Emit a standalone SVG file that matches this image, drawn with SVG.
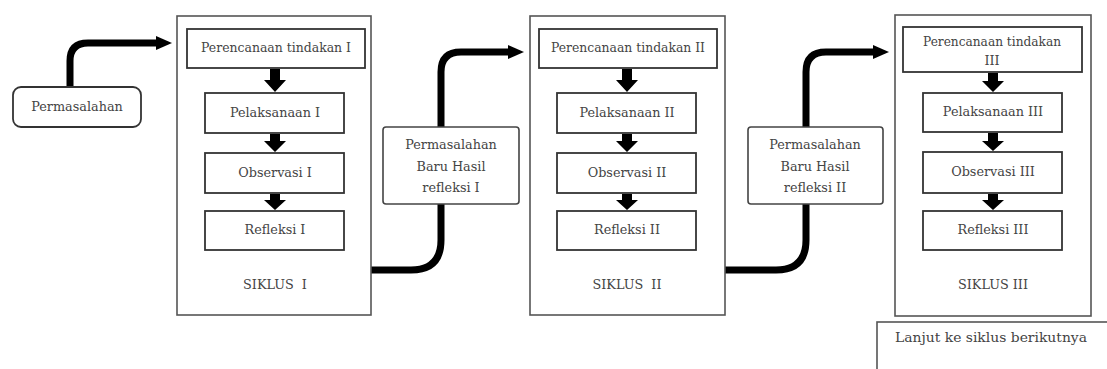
<svg xmlns="http://www.w3.org/2000/svg" width="1107" height="369" viewBox="0 0 1107 369">
<style>
.bg{fill:#fff}
.outer{fill:#fff;stroke:#555;stroke-width:1.6}
.inner{fill:#fff;stroke:#333;stroke-width:1.8}
.note{fill:#fff;stroke:#444;stroke-width:1.6}
.t{font-family:"DejaVu Serif","Liberation Serif",serif;font-size:12.8px;fill:#444;text-anchor:middle}
.conn{fill:none;stroke:#000;stroke-width:7}
.blk{fill:#000}
</style>
<defs>
<marker id="ah" markerUnits="userSpaceOnUse" markerWidth="16" markerHeight="16" viewBox="0 0 16 16" refX="2" refY="8" orient="auto">
<path d="M0,1 L16,8 L0,15 Z" fill="#000"/>
</marker>
</defs>
<rect class="bg" x="0" y="0" width="1107" height="369"/>

<g id="connectors">
<path class="conn" d="M70,87 V61 Q70,43 88,43 H158" marker-end="url(#ah)"/>
<path class="conn" d="M371,270 H411 Q441,270 441,240 V72 Q441,52 461,52 H510" marker-end="url(#ah)"/>
<path class="conn" d="M725,270 H776 Q806,270 806,240 V72 Q806,52 826,52 H875" marker-end="url(#ah)"/>
</g>

<g id="permasalahan">
<rect class="inner" x="13" y="87" width="128" height="40" rx="8"/>
<text class="t" x="77" y="111">Permasalahan</text>
</g>

<g id="siklus1">
<rect class="outer" x="177" y="16" width="194" height="299"/>
<text class="t" x="275" y="289" style="word-spacing:4px">SIKLUS I</text>
</g>
<g id="perencanaan1"><rect class="inner" x="187" y="29" width="178" height="39"/><text class="t" x="276" y="52" textLength="150" lengthAdjust="spacingAndGlyphs">Perencanaan tindakan I</text></g>
<g id="pelaksanaan1"><rect class="inner" x="205" y="93" width="139" height="40"/><text class="t" x="275" y="117">Pelaksanaan I</text></g>
<g id="observasi1"><rect class="inner" x="205" y="153" width="139" height="40"/><text class="t" x="275" y="177">Observasi I</text></g>
<g id="refleksi1"><rect class="inner" x="205" y="211" width="139" height="39"/><text class="t" x="275" y="234">Refleksi I</text></g>
<g id="arrows1">
<path class="blk" d="M270,69 H280 V80 H286 L275,92 L264,80 H270 Z"/>
<path class="blk" d="M270,134 H280 V141 H286 L275,152 L264,141 H270 Z"/>
<path class="blk" d="M270,194 H280 V200 H286 L275,210 L264,200 H270 Z"/>
</g>

<g id="masalah1">
<rect class="note" x="383" y="127" width="136" height="77" rx="3"/>
<text class="t" x="451" y="149">Permasalahan</text>
<text class="t" x="451" y="171">Baru Hasil</text>
<text class="t" x="451" y="192">refleksi I</text>
</g>

<g id="siklus2">
<rect class="outer" x="530" y="16" width="195" height="299"/>
<text class="t" x="627" y="289" style="word-spacing:4px">SIKLUS II</text>
</g>
<g id="perencanaan2"><rect class="inner" x="539" y="29" width="178" height="39"/><text class="t" x="628" y="52" textLength="154" lengthAdjust="spacingAndGlyphs">Perencanaan tindakan II</text></g>
<g id="pelaksanaan2"><rect class="inner" x="557" y="93" width="139" height="40"/><text class="t" x="627" y="117">Pelaksanaan II</text></g>
<g id="observasi2"><rect class="inner" x="557" y="153" width="139" height="40"/><text class="t" x="627" y="177">Observasi II</text></g>
<g id="refleksi2"><rect class="inner" x="557" y="211" width="139" height="39"/><text class="t" x="627" y="234">Refleksi II</text></g>
<g id="arrows2">
<path class="blk" d="M622,69 H632 V80 H638 L627,92 L616,80 H622 Z"/>
<path class="blk" d="M622,134 H632 V141 H638 L627,152 L616,141 H622 Z"/>
<path class="blk" d="M622,194 H632 V200 H638 L627,210 L616,200 H622 Z"/>
</g>

<g id="masalah2">
<rect class="note" x="748" y="127" width="135" height="77" rx="3"/>
<text class="t" x="815" y="149">Permasalahan</text>
<text class="t" x="815" y="171">Baru Hasil</text>
<text class="t" x="815" y="192">refleksi II</text>
</g>

<g id="siklus3">
<rect class="outer" x="895" y="15" width="196" height="301"/>
<text class="t" x="993" y="289">SIKLUS III</text>
</g>
<g id="perencanaan3"><rect class="inner" x="903" y="27" width="179" height="45"/><text class="t" x="992" y="46" textLength="138" lengthAdjust="spacingAndGlyphs">Perencanaan tindakan</text><text class="t" x="992" y="65">III</text></g>
<g id="pelaksanaan3"><rect class="inner" x="923" y="93" width="139" height="39"/><text class="t" x="993" y="116">Pelaksanaan III</text></g>
<g id="observasi3"><rect class="inner" x="923" y="152" width="139" height="41"/><text class="t" x="993" y="176">Observasi III</text></g>
<g id="refleksi3"><rect class="inner" x="923" y="211" width="139" height="39"/><text class="t" x="993" y="234">Refleksi III</text></g>
<g id="arrows3">
<path class="blk" d="M988,73 H998 V81 H1004 L993,92 L982,81 H988 Z"/>
<path class="blk" d="M988,133 H998 V141 H1004 L993,151 L982,141 H988 Z"/>
<path class="blk" d="M988,194 H998 V200 H1004 L993,210 L982,200 H988 Z"/>
</g>

<g id="lanjut">
<rect class="outer" x="877" y="322" width="240" height="60"/>
<text class="t" x="991" y="342" style="font-size:13.5px" textLength="192" lengthAdjust="spacingAndGlyphs">Lanjut ke siklus berikutnya</text>
</g>
</svg>
